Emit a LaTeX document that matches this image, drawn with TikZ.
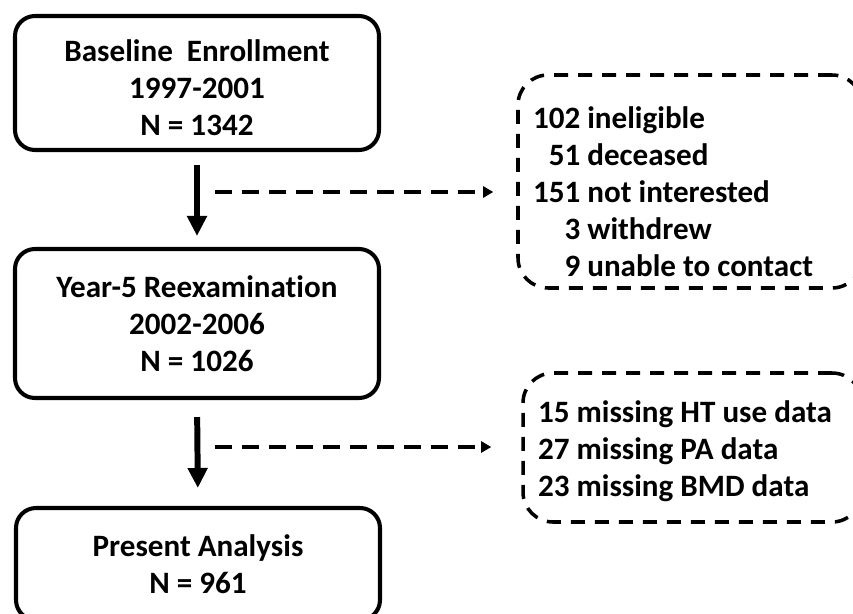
\documentclass[tikz,border=0pt]{standalone}
\usepackage{fontspec}
\setmainfont{Carlito}[Ligatures=NoCommon]
\usetikzlibrary{positioning, arrows.meta}

\begin{document}
\begin{tikzpicture}[
  font=\fontsize{17.7}{21}\selectfont\bfseries,
  stage/.style={draw, line width=2.3pt, rounded corners=0.4cm, minimum width=7.28cm, align=center},
  drop/.style={draw, dashed, dash pattern=on 0.28cm off 0.2cm, line width=2pt, rounded corners=0.6cm,
    inner xsep=0.3cm, align=flush left},
  flow/.style={-{Triangle[length=0.4cm,width=0.38cm]}, line width=3.4pt},
  side/.style={-{Triangle[length=0.2cm,width=0.22cm]}, line width=2.1pt, dash pattern=on 0.34cm off 0.2cm}
]
\clip (0,0) rectangle (17.06,12.26);

% --- main stages ---
\node[stage, minimum height=2.68cm] (enroll)   at (3.94,10.6) {\rule{0pt}{0.62cm}Baseline\ \ Enrollment\\1997-2001\\N = 1342};
\node[stage, minimum height=2.98cm] (year5)    at (3.94,5.79) {Year-5 Reexamination\\2002-2006\\N = 1026};
\node[stage, minimum height=2.24cm] (analysis) at (3.96,0.98) {Present Analysis\\N = 961};

\draw[flow, shorten <=0.26cm, shorten >=0.22cm] (enroll.south) -- (year5.north);
\draw[flow, shorten <=0.34cm, shorten >=0.36cm] (year5.south) -- (analysis.north);

% --- losses at each step (first line strut pushes the list down) ---
\node[drop, text width=6.28cm, minimum height=4.26cm] (lost) at (13.8,8.63)
  {\rule{0pt}{0.85cm}102 ineligible\\
   \phantom{0}51 deceased\\
   151 not interested\\
   \phantom{00}3 withdrew\\
   \phantom{00}9 unable to contact};
\node[drop, text width=6.18cm, minimum height=2.98cm] (missing) at (13.85,3.31)
  {\rule{0pt}{0.6cm}15 missing HT use data\\
   27 missing PA data\\
   23 missing BMD data};

\coordinate (fork1) at (4.3,8.42);
\coordinate (fork2) at (4.3,3.32);
\draw[side, shorten >=0.46cm] (fork1) -- (fork1 -| lost.west);
\draw[side, shorten >=0.6cm] (fork2) -- (fork2 -| missing.west);
\end{tikzpicture}
\end{document}
